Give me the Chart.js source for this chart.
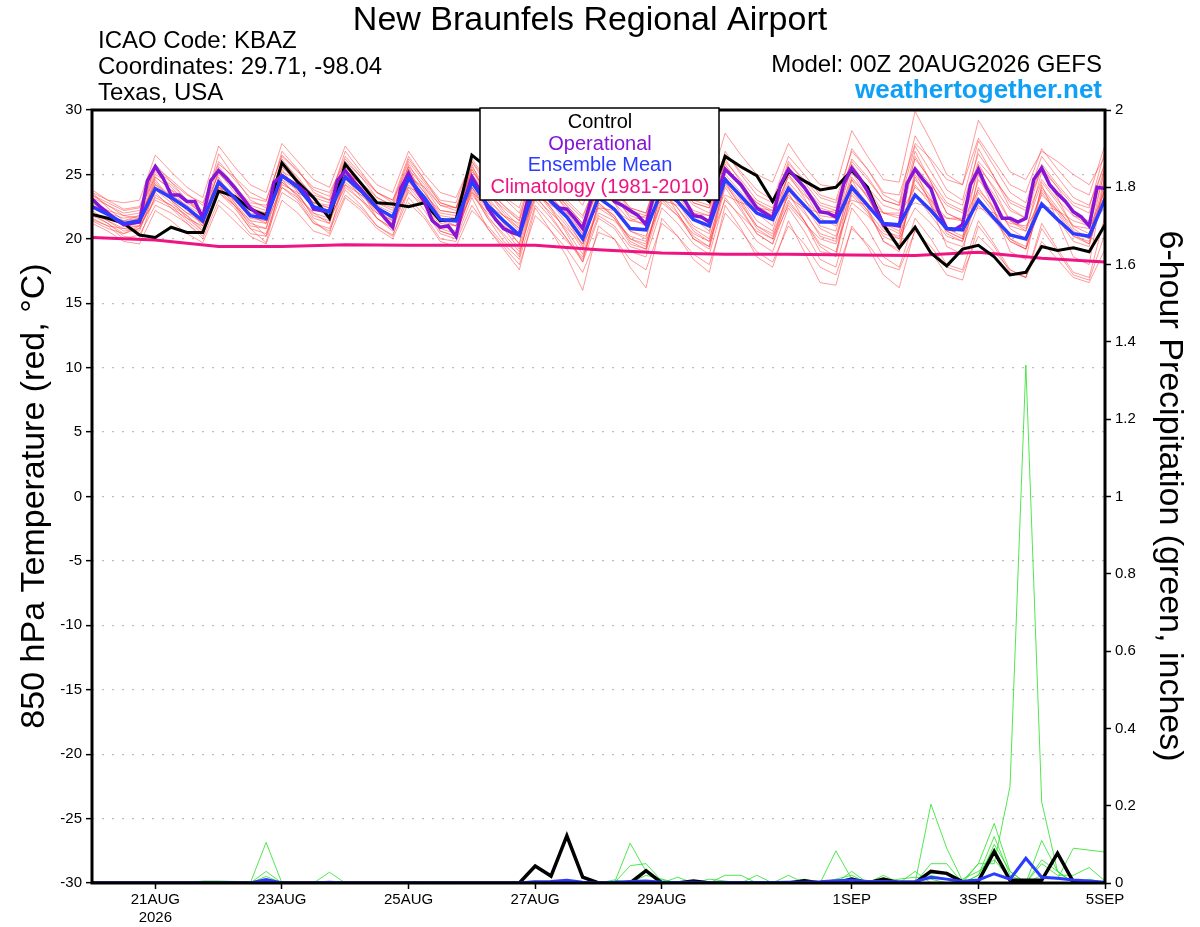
<!DOCTYPE html>
<html lang="en">
<head>
<meta charset="UTF-8">
<title>New Braunfels Regional Airport - GEFS</title>
<script src="https://cdn.jsdelivr.net/npm/chart.js"></script>
<style>
  body { margin: 0; background: #fff; }
  canvas { display: block; }
</style>
</head>
<body>
<canvas id="chart" width="1200" height="927"></canvas>
<script>
// x axis is in hours after 00Z 20AUG2026
const tickHours = [24, 72, 120, 168, 216, 288, 336, 384];
const tickLabels = [['21AUG', '2026'], '23AUG', '25AUG', '27AUG', '29AUG', '1SEP', '3SEP', '5SEP'];

// 850 hPa temperature (C), 6-hourly
const ctrlTemp = [21.9,21.6,21.2,20.3,20.1,20.9,20.5,20.5,23.7,23.3,22.3,21.8,25.9,24.4,23.2,21.6,25.8,
  24.3,22.8,22.7,22.5,22.8,21.4,21.5,26.5,25.5,24.8,24.0,26.0,25.2,24.5,23.8,25.8,
  25.0,24.3,23.6,25.6,24.6,23.8,22.9,26.4,25.6,24.9,22.9,25.2,24.5,23.8,24.0,25.3,
  24.0,21.1,19.3,20.9,18.9,17.9,19.2,19.5,18.6,17.2,17.4,19.4,19.1,19.3,19.0,21.1];
const meanTemp = [22.5,21.9,21.2,21.4,23.9,23.2,22.4,21.4,24.4,23.2,21.8,21.6,24.9,24.0,22.5,22.1,24.8,
  23.7,22.4,21.7,24.7,23.2,21.5,21.4,24.4,22.6,21.4,20.3,24.2,22.9,21.7,20.0,23.2,
  22.3,20.8,20.7,23.8,22.9,21.5,21.0,24.6,23.3,22.0,21.5,23.9,22.6,21.3,21.3,24.0,
  22.6,21.2,21.1,23.4,22.2,20.8,20.7,23.0,21.6,20.3,20.0,22.7,21.5,20.4,20.2,23.1];
// operational run, 3-hourly
const operTemp = [23.1,22.5,22.0,21.5,21.1,21.2,21.3,24.5,25.6,24.7,23.4,23.4,22.9,22.9,21.6,24.5,25.3,
  24.7,24.0,23.2,22.4,21.9,21.6,24.4,24.9,24.5,24.1,23.6,22.3,22.2,22.1,24.5,25.3,
  24.5,23.8,23.1,22.4,21.6,20.9,23.9,25.1,23.8,22.9,21.4,20.9,21.0,20.2,22.9,24.8,
  23.8,22.4,21.5,20.8,20.5,20.3,22.9,24.5,23.8,22.9,22.4,22.3,21.6,20.8,22.9,24.8,
  23.9,22.9,22.6,22.2,21.8,21.1,23.4,24.8,24.3,23.7,22.9,21.8,21.7,21.3,23.4,25.4,
  24.8,24.2,23.3,22.4,22.0,21.6,24.2,25.4,24.7,24.0,23.1,22.1,22.0,21.7,24.3,25.5,
  24.7,23.7,22.4,21.1,21.1,21.0,24.3,25.4,24.6,23.9,22.1,20.8,20.7,21.1,24.2,25.4,
  24.0,22.9,21.6,21.6,21.3,21.6,24.6,25.5,24.2,23.5,22.9,22.1,21.7,21.0,24.0,23.9];
// climatology, daily at 00Z
const climTemp = [20.1,19.9,19.4,19.4,19.55,19.5,19.5,19.5,19.15,18.9,18.8,18.8,18.75,18.7,18.95,18.5,18.2];

// ensemble members, 6-hourly
const ens01 = [23.8,23.0,22.3,22.5,25.6,24.6,23.5,22.6,26.0,24.6,23.2,22.9,26.5,25.3,23.8,23.3,26.4,
  25.0,23.6,23.0,26.4,24.6,23.0,22.8,26.2,24.5,23.3,22.4,26.6,25.2,24.0,22.6,25.8,
  25.0,23.6,23.5,26.8,25.8,24.4,24.0,28.2,26.5,25.0,24.4,27.4,25.6,24.2,24.0,28.4,
  26.4,24.6,24.4,29.9,27.6,25.0,24.2,27.8,26.0,24.2,23.6,27.0,25.4,24.0,23.4,27.3];
const ens02 = [21.5,21.0,20.0,20.3,22.6,22.0,21.2,20.0,23.0,22.0,20.4,20.2,23.6,22.8,21.2,20.6,23.4,
  22.4,21.0,20.3,23.2,21.8,20.0,19.8,22.6,20.8,19.4,18.0,21.8,20.6,19.2,17.4,20.5,
  20.0,18.4,17.6,21.2,20.2,18.8,18.0,22.0,20.6,19.0,18.2,21.0,19.6,17.8,17.2,20.8,
  19.6,18.0,17.6,20.6,19.4,17.8,17.4,20.2,19.0,17.6,17.0,19.8,18.4,17.0,16.6,19.2];
const ens03 = [23.0,22.2,21.0,21.2,24.8,23.8,22.4,21.0,25.4,23.8,21.8,21.2,26.2,24.6,22.6,21.8,25.6,
  24.2,22.6,21.4,25.8,23.8,21.6,21.0,25.8,23.0,21.2,19.6,25.2,23.4,21.6,19.4,23.8,
  22.8,20.6,20.0,24.6,23.4,21.6,20.6,25.8,24.0,22.0,21.0,25.0,23.2,21.0,20.6,25.2,
  23.2,21.0,20.4,24.8,22.8,20.4,19.8,24.0,22.2,20.0,19.2,23.6,22.0,20.2,19.6,24.4];
const ens04 = [22.0,21.6,21.4,21.8,24.2,23.0,22.0,21.6,24.0,23.4,22.4,22.0,24.2,23.6,22.8,22.6,24.2,
  23.4,22.8,22.4,24.0,23.4,22.2,22.0,23.6,22.6,21.8,21.2,23.4,22.6,22.0,21.0,22.4,
  22.2,21.4,21.8,23.0,22.6,22.0,21.8,23.4,22.8,22.4,22.2,23.2,22.4,22.0,22.2,23.0,
  22.6,22.0,22.0,22.8,22.4,21.6,21.6,22.4,22.0,21.2,21.0,22.6,22.2,21.4,21.0,22.4];
const ens05 = [23.6,22.4,21.4,21.6,25.0,24.2,23.0,21.8,25.2,23.6,22.2,22.0,25.6,24.4,22.8,22.4,25.4,
  24.2,22.8,22.2,25.4,24.0,22.2,22.0,25.2,23.8,22.6,21.4,26.0,24.4,22.8,21.6,25.0,
  24.0,22.4,22.0,26.0,24.8,23.0,22.6,26.6,25.2,23.8,23.0,26.4,25.0,23.4,23.0,26.8,
  25.4,23.6,23.4,27.4,26.2,24.6,24.2,29.2,27.2,25.2,24.6,26.8,26.0,25.0,24.2,26.4];
const ens06 = [22.2,21.4,20.6,20.8,23.2,22.6,21.8,20.8,23.8,22.6,21.2,20.8,24.4,23.4,21.8,21.4,24.2,
  23.0,21.6,20.8,24.0,22.6,20.8,20.4,23.6,21.6,20.4,19.0,23.0,21.6,20.0,18.2,21.6,
  20.8,19.0,18.6,22.4,21.2,19.6,18.8,23.2,21.6,19.8,19.0,22.4,20.6,18.4,17.8,22.4,
  20.8,18.6,17.8,21.6,20.0,18.0,17.6,21.4,19.6,17.6,17.0,20.8,19.0,17.2,16.8,20.4];
const ens07 = [22.8,22.0,21.6,21.8,24.2,23.4,22.6,21.8,24.6,23.4,22.0,21.8,25.0,24.2,22.8,22.4,25.0,
  24.0,22.6,22.0,25.0,23.6,22.0,21.8,24.8,23.0,21.8,20.6,24.6,23.2,22.0,20.4,23.6,
  22.8,21.4,21.2,24.4,23.4,22.0,21.4,25.0,23.6,22.4,21.8,24.4,23.0,21.8,21.6,24.6,
  23.4,22.0,21.8,24.0,23.0,21.6,21.4,23.8,22.4,21.0,20.6,23.4,22.2,21.0,20.8,23.8];
const ens08 = [21.8,21.2,20.4,21.0,24.6,23.0,21.6,20.6,24.8,22.8,21.0,20.8,25.4,23.6,21.6,21.2,25.8,
  23.8,21.6,20.6,25.6,22.8,20.6,20.2,24.0,21.8,20.2,18.6,24.0,22.4,20.4,18.2,22.8,
  21.6,19.6,19.2,24.0,22.0,20.0,19.4,24.4,22.4,20.4,19.6,23.6,21.4,19.0,18.8,24.6,
  22.4,19.8,19.0,25.4,22.6,19.4,18.8,25.0,22.2,19.0,18.4,24.2,21.4,18.6,18.0,25.0];
const ens09 = [23.4,22.6,22.0,22.2,24.8,23.8,23.0,22.2,25.0,24.0,22.8,22.6,25.2,24.6,23.4,23.0,25.0,
  24.4,23.2,22.6,24.8,24.0,22.6,22.4,25.0,23.4,22.4,21.4,24.8,23.6,22.6,21.2,23.8,
  23.2,21.8,21.4,24.6,23.6,22.2,21.8,25.6,24.2,22.8,22.0,24.8,23.4,22.4,22.0,25.4,
  24.0,22.6,22.2,26.2,24.6,22.8,22.2,25.6,24.0,22.2,21.6,24.6,23.0,21.8,21.4,25.6];
const ens10 = [22.0,21.2,20.2,20.0,23.4,22.6,21.4,20.4,23.6,22.4,20.8,20.4,24.0,23.0,21.2,20.8,23.8,
  22.6,21.0,20.2,23.8,22.2,20.4,20.0,23.2,20.8,19.2,17.6,22.4,20.6,18.6,16.0,21.0,
  20.0,17.8,16.2,21.6,20.2,18.4,17.4,22.6,20.8,18.6,17.8,21.4,19.0,16.6,16.4,21.0,
  19.4,17.2,16.2,20.8,19.0,17.2,16.8,21.0,19.4,17.4,17.0,21.2,19.2,17.4,17.0,21.8];
const ens11 = [23.2,22.6,21.8,22.0,25.2,24.0,22.8,22.0,25.6,24.2,22.6,22.2,26.0,24.8,23.2,22.8,26.2,
  24.8,23.2,22.6,26.0,24.4,22.8,22.4,26.0,24.0,22.6,21.6,25.8,24.0,22.6,21.2,24.4,
  23.8,22.2,21.8,25.8,24.4,22.8,22.4,26.8,25.0,23.4,22.8,25.6,24.0,22.6,22.2,26.2,
  24.8,23.0,22.6,27.2,25.2,23.2,22.6,26.6,24.8,22.8,22.2,25.8,24.2,22.8,22.4,26.8];
const ens12 = [21.6,21.0,20.8,21.0,23.0,22.4,21.6,21.0,23.6,22.6,21.4,21.2,24.0,23.2,22.0,21.6,24.0,
  23.0,22.0,21.4,23.6,22.6,21.4,21.0,23.4,22.0,21.0,20.2,23.2,22.0,20.8,19.6,22.0,
  21.4,20.2,19.8,22.8,21.8,20.4,19.8,23.0,21.8,20.6,20.0,22.6,21.2,20.0,19.6,22.8,
  21.8,20.4,20.0,22.4,21.2,19.8,19.4,22.6,21.4,19.8,19.2,22.8,21.6,20.2,19.8,23.4];
const ens13 = [23.0,22.0,21.0,21.0,23.8,23.4,22.2,21.2,24.2,23.0,21.6,21.4,25.6,24.4,22.4,21.8,25.2,
  24.0,22.4,21.8,25.2,23.6,21.8,21.6,25.4,23.2,21.8,20.8,25.4,23.8,22.2,20.4,24.2,
  23.4,21.6,21.0,25.2,23.8,22.0,21.2,26.2,24.4,22.6,21.8,25.0,23.6,21.6,21.0,25.8,
  24.0,22.0,21.6,26.8,24.4,22.0,21.4,27.0,24.8,22.4,21.6,25.6,24.0,21.8,21.0,25.2];
const ens14 = [22.4,21.8,21.2,21.6,24.4,23.0,22.0,21.2,24.0,23.0,21.8,21.4,24.6,23.8,22.4,21.8,24.4,
  23.4,22.2,21.4,24.4,23.0,21.2,21.0,24.0,22.2,21.0,19.6,23.8,22.4,21.0,19.2,22.6,
  21.8,20.0,19.6,23.6,22.4,20.8,20.0,24.2,22.6,21.0,20.4,23.4,22.0,20.4,20.0,23.6,
  22.2,20.6,20.2,23.4,21.8,20.2,19.8,23.2,21.6,19.8,19.2,22.8,21.6,19.8,19.4,24.0];
const ens15 = [23.6,23.0,22.8,23.0,26.5,25.2,24.0,23.2,27.2,25.6,24.2,23.6,27.4,26.0,24.6,24.0,27.2,
  25.6,24.2,23.6,26.8,25.0,23.6,23.2,26.0,24.4,23.2,22.0,25.6,24.2,23.0,21.8,24.6,
  23.8,22.4,22.0,25.4,24.2,22.8,22.4,25.4,24.0,22.8,22.2,25.8,24.6,23.2,22.8,26.0,
  24.6,23.0,22.6,25.6,24.2,22.6,22.0,26.0,24.6,23.0,22.4,25.4,24.0,22.6,22.0,26.0];
const ens16 = [21.2,20.6,19.8,19.6,22.2,21.4,20.4,19.7,22.6,21.4,20.2,19.6,23.0,22.0,20.6,20.2,23.2,
  22.2,20.8,20.0,22.8,21.6,19.8,19.4,22.2,21.0,19.6,18.4,22.6,21.2,19.8,18.6,21.8,
  21.0,19.4,19.0,23.0,21.8,20.0,19.2,24.0,22.2,20.4,19.6,22.8,21.4,19.6,19.0,23.4,
  22.0,20.2,19.6,24.2,22.6,20.6,20.0,23.6,22.0,20.0,19.4,24.0,22.4,20.6,20.0,24.8];
const ens17 = [22.6,22.2,21.8,21.6,25.8,24.4,23.0,22.0,26.6,24.8,23.0,22.4,26.8,25.4,23.6,23.0,26.8,
  25.2,23.6,22.8,26.2,24.6,22.8,22.4,25.6,23.8,22.2,21.0,25.0,23.6,22.4,20.8,24.0,
  23.4,22.0,21.6,25.0,24.0,22.6,22.0,26.0,24.6,23.0,22.4,26.0,24.4,22.8,22.4,27.0,
  25.4,23.4,22.8,28.0,26.0,23.8,23.0,27.6,25.6,23.6,22.8,26.4,24.8,23.2,22.6,25.8];
const ens18 = [22.0,21.4,20.8,20.6,23.8,22.8,21.8,20.6,24.0,22.8,21.4,20.2,24.4,23.4,22.0,21.2,24.6,
  23.6,22.0,21.2,24.2,22.8,21.0,20.6,24.0,22.4,20.8,19.2,23.8,22.2,20.6,18.8,22.4,
  21.6,20.0,19.4,23.2,22.0,20.2,19.4,24.4,22.8,20.8,20.0,23.8,22.2,20.2,19.8,24.8,
  23.2,21.2,20.6,26.4,24.4,22.0,21.4,25.2,23.4,21.4,20.8,24.4,22.8,21.0,20.4,23.8];
const ens19 = [23.4,22.8,22.2,22.4,25.4,24.4,23.4,22.8,25.8,24.8,23.6,23.0,26.4,25.2,24.0,23.6,26.0,
  24.8,23.6,23.0,25.6,24.2,22.6,22.2,25.4,23.6,22.0,20.8,24.4,22.8,21.2,19.6,23.2,
  22.4,20.6,20.2,24.0,22.8,21.0,20.4,24.8,23.2,21.4,20.6,24.2,22.6,20.8,20.2,24.2,
  22.8,20.8,20.0,24.6,23.0,20.8,20.2,24.6,23.0,20.8,20.0,23.8,22.2,20.4,19.6,23.4];
const ens20 = [21.4,20.8,20.4,20.8,23.6,22.4,21.2,20.2,24.2,22.6,20.8,19.7,24.6,23.2,21.4,20.4,24.8,
  23.2,21.6,20.8,24.6,22.6,20.6,20.2,23.8,21.6,19.8,18.8,23.4,21.8,20.0,18.4,22.8,
  21.8,19.8,19.2,23.8,22.4,20.6,19.8,24.8,23.0,21.0,20.2,23.0,21.4,19.4,18.6,23.8,
  22.2,19.8,19.2,25.0,23.2,20.6,20.0,25.8,23.8,21.4,20.6,25.2,23.2,20.8,20.0,25.6];

// 6-hour precipitation (in), 6-hourly
const ctrlPrecip = [0,0,0,0,0,0,0,0,0,0,0,0,0,0,0,0,
  0,0,0,0,0,0,0,0,0,0,0,0,0.044,0.018,0.122,0.015,
  0,0,0,0.032,0,0,0.005,0,0,0,0,0,0,0.006,0,0,
  0.01,0,0.01,0,0,0.03,0.025,0.003,0.005,0.081,0.007,0.007,0.007,0.077,0.003,0,0];
const meanPrecip = [0,0,0,0,0,0,0,0,0,0,0,0.009,0,0,0,0.002,
  0,0,0,0,0,0,0,0,0,0,0,0,0.003,0.004,0.007,0.002,
  0,0.002,0.004,0.005,0.002,0.001,0.002,0,0.001,0.001,0.001,0.001,0.002,0.002,0.003,0.006,
  0.008,0.004,0.004,0.003,0.004,0.015,0.01,0.004,0.008,0.024,0.01,0.064,0.015,0.012,0.008,0.005,0.002];
const pcp01 = [0,0,0,0,0,0,0,0,0,0,0,0.105,0,0,0,0,
  0,0,0,0,0,0,0,0,0,0,0,0,0,0,0,0,
  0,0,0,0,0,0,0,0,0,0,0,0,0,0,0,0,
  0,0,0,0,0,0.204,0.09,0.005,0.05,0.154,0.03,0,0,0,0,0,0];
const pcp02 = [0,0,0,0,0,0,0,0,0,0,0,0.03,0,0,0,0.028,
  0,0,0,0,0,0,0,0,0,0,0,0,0,0,0,0,
  0,0,0.045,0.05,0.005,0,0,0,0,0,0,0,0,0,0,0.083,
  0.01,0,0,0,0,0.05,0.05,0,0.02,0.12,0.02,0,0.11,0.03,0,0,0];
const pcp03 = [0,0,0,0,0,0,0,0,0,0,0,0.017,0,0,0,0,
  0,0,0,0,0,0,0,0,0,0,0,0,0,0,0.005,0,
  0,0,0.103,0.03,0,0.015,0,0,0.02,0.02,0,0,0.02,0,0,0,
  0.03,0,0,0,0.03,0,0,0,0.05,0.05,0.25,1.34,0.21,0.03,0,0,0];
const pcp04 = [0,0,0,0,0,0,0,0.005,0.005,0.004,0,0,0.004,0,0,0,
  0,0,0,0,0.004,0,0,0,0,0,0,0,0,0.005,0,0,
  0,0.008,0,0,0,0,0,0,0,0,0.02,0,0,0,0,0,
  0,0,0.02,0,0,0.02,0.01,0,0.02,0.09,0.01,0,0.02,0.01,0.09,0.085,0.08];
const pcp05 = [0,0,0,0,0,0,0,0,0,0,0,0,0,0,0,0,
  0,0,0,0,0,0,0,0,0,0,0,0.003,0.005,0,0,0.003,
  0,0,0,0,0.008,0,0,0.01,0.005,0,0,0,0,0.01,0,0.01,
  0.02,0,0.005,0.01,0.015,0.01,0,0.01,0.03,0.06,0.01,0,0.05,0.02,0.02,0.04,0.005];
const pcp06 = [0,0,0,0,0,0,0,0,0,0,0,0,0,0,0,0,
  0,0,0,0,0,0,0.003,0,0,0,0,0,0,0,0,0,
  0,0,0,0.02,0.01,0,0,0,0,0,0,0,0,0,0,0,
  0,0,0,0,0,0.03,0.025,0.002,0.005,0.1,0.03,0,0.06,0.03,0,0.01,0];

const members = [ens01, ens02, ens03, ens04, ens05, ens06, ens07, ens08, ens09, ens10,
  ens11, ens12, ens13, ens14, ens15, ens16, ens17, ens18, ens19, ens20];
const memberPrecip = [pcp01, pcp02, pcp03, pcp04, pcp05, pcp06];

const FONT = '"Liberation Sans", Arial, Helvetica, sans-serif';
Chart.defaults.font.family = FONT;
Chart.defaults.color = '#000';

// values -> {x: hour, y}
function series(arr, step) {
  return arr.map((v, i) => ({ x: i * step, y: v }));
}

function line(data, color, width, axis, order) {
  return {
    data: data,
    borderColor: color,
    borderWidth: width,
    pointRadius: 0,
    tension: 0,
    fill: false,
    yAxisID: axis,
    order: order
  };
}

const datasets = [];
datasets.push(line(series(meanTemp, 6), '#2b3cff', 3.5, 'y', 1));
datasets.push(line(series(operTemp, 3), '#8715d8', 3.5, 'y', 2));
datasets.push(line(series(ctrlTemp, 6), '#000000', 3, 'y', 3));
datasets.push(line(series(climTemp, 24), '#ee1482', 3, 'y', 4));
datasets.push(line(series(meanPrecip, 6), '#2b3cff', 3, 'y2', 1));
datasets.push(line(series(ctrlPrecip, 6), '#000000', 3.5, 'y2', 2));
members.forEach(m => datasets.push(line(series(m, 6), 'rgba(255,50,50,0.62)', 0.8, 'y', 10)));
memberPrecip.forEach(p => datasets.push(line(series(p, 6), 'rgba(40,225,40,0.9)', 0.9, 'y2', 9)));

// header text, frame and key box
const decorations = {
  id: 'decorations',
  afterDraw(chart) {
    const ctx = chart.ctx;
    const a = chart.chartArea;
    ctx.save();

    ctx.strokeStyle = '#000';
    ctx.lineWidth = 3;
    ctx.strokeRect(a.left, a.top, a.right - a.left, a.bottom - a.top);

    // key box
    ctx.fillStyle = '#fff';
    ctx.fillRect(480, 108, 239, 92);
    ctx.lineWidth = 1.5;
    ctx.strokeRect(480, 108, 239, 92);
    ctx.font = '20px ' + FONT;
    ctx.textAlign = 'center';
    ctx.textBaseline = 'alphabetic';
    const keys = [['Control', '#000'], ['Operational', '#8715d8'], ['Ensemble Mean', '#2b3cff'], ['Climatology (1981-2010)', '#ee1482']];
    keys.forEach((k, i) => {
      ctx.fillStyle = k[1];
      ctx.fillText(k[0], 600, 128 + i * 21.7);
    });

    ctx.fillStyle = '#000';
    ctx.font = '34px ' + FONT;
    ctx.fillText('New Braunfels Regional Airport', 590, 30);

    ctx.textAlign = 'left';
    ctx.font = '24px ' + FONT;
    ctx.fillText('ICAO Code: KBAZ', 98, 48);
    ctx.fillText('Coordinates: 29.71, -98.04', 98, 74);
    ctx.fillText('Texas, USA', 98, 100);

    ctx.textAlign = 'right';
    ctx.fillText('Model: 00Z 20AUG2026 GEFS', 1102, 72);
    ctx.fillStyle = '#0fa0f5';
    ctx.font = 'bold 26px ' + FONT;
    ctx.fillText('weathertogether.net', 1102, 98);

    // axis titles
    ctx.fillStyle = '#000';
    ctx.font = '34px ' + FONT;
    ctx.textAlign = 'center';
    ctx.save();
    ctx.translate(44, 496);
    ctx.rotate(-Math.PI / 2);
    ctx.fillText('850 hPa Temperature (red, \u00B0C)', 0, 0);
    ctx.restore();
    ctx.save();
    ctx.translate(1160, 496);
    ctx.rotate(Math.PI / 2);
    ctx.fillText('6-hour Precipitation (green, inches)', 0, 0);
    ctx.restore();

    ctx.restore();
  }
};

new Chart(document.getElementById('chart'), {
  type: 'line',
  data: { datasets: datasets },
  options: {
    responsive: false,
    animation: false,
    layout: { padding: { top: 110, left: 0, right: 0, bottom: 0 } },
    plugins: { legend: { display: false }, tooltip: { enabled: false } },
    scales: {
      x: {
        type: 'linear',
        min: 0,
        max: 384,
        afterBuildTicks: s => { s.ticks = tickHours.map(v => ({ value: v })); },
        afterFit: s => { s.height = 44; },
        ticks: {
          autoSkip: false,
          maxRotation: 0,
          padding: 2,
          font: { size: 15 },
          callback: v => tickLabels[tickHours.indexOf(v)]
        },
        grid: { drawOnChartArea: false, tickLength: 6, tickColor: '#000', tickWidth: 1.5 },
        border: { display: false }
      },
      y: {
        position: 'left',
        min: -30,
        max: 30,
        afterFit: s => { s.width = 92; },
        ticks: { stepSize: 5, padding: 4, font: { size: 15 } },
        grid: { color: '#bdbdbd', lineWidth: 1.3, tickColor: '#000', tickLength: 6, tickWidth: 1.5 },
        border: { display: false, dash: [2, 8] }
      },
      y2: {
        position: 'right',
        min: 0,
        max: 2,
        afterFit: s => { s.width = 95; },
        ticks: { stepSize: 0.2, padding: 4, font: { size: 15 }, callback: v => String(Math.round(v * 10) / 10) },
        grid: { drawOnChartArea: false, tickColor: '#000', tickLength: 6, tickWidth: 1.5 },
        border: { display: false }
      }
    }
  },
  plugins: [decorations]
});
</script>
</body>
</html>
